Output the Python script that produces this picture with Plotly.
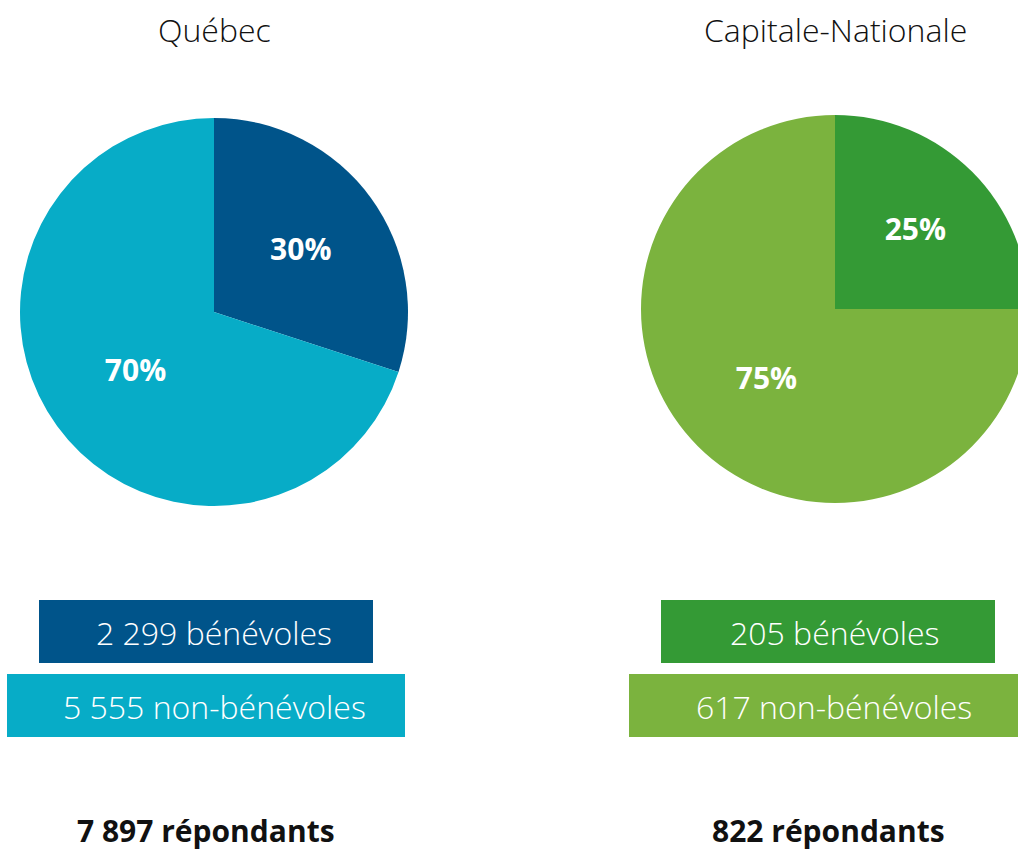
import plotly.graph_objects as go

W, H = 1040, 849

regions = ["Québec", "Capitale-Nationale"]
categories = ["bénévoles", "non-bénévoles"]
percent_quebec = [30, 70]
percent_capitale = [25, 75]
counts_quebec = ["2 299", "5 555"]
counts_capitale = ["205", "617"]
respondents = ["7 897", "822"]

colors_quebec = ["#00548A", "#07ACC7"]
colors_capitale = ["#349A35", "#7BB33E"]

FONT = "Open Sans"


def px_x(v):
    return v / W


def px_y(v):
    return 1 - v / H


fig = go.Figure()

pie_specs = [
    (percent_quebec, colors_quebec, [20, 408], [118, 506]),
    (percent_capitale, colors_capitale, [641, 1029], [115, 503]),
]
for vals, cols, dx, dy in pie_specs:
    fig.add_trace(go.Pie(
        labels=categories,
        values=vals,
        text=[f"{v}%" for v in vals],
        textinfo="text",
        textposition="inside",
        insidetextorientation="horizontal",
        insidetextfont=dict(family=FONT, size=30, color="white", weight="bold"),
        marker=dict(colors=cols, line=dict(width=0)),
        sort=False,
        direction="clockwise",
        rotation=0,
        showlegend=False,
        hoverinfo="label+percent",
        domain=dict(x=[px_x(dx[0]), px_x(dx[1])], y=[px_y(dy[1]), px_y(dy[0])]),
    ))

shapes = []
annotations = []

centers = [214, 834]
title_centers = [214, 835]
box_specs = [
    [(39, 373, 600, 663), (7, 405, 674, 737)],
    [(661, 995, 600, 663), (629, 1040, 674, 737)],
]
counts_all = [counts_quebec, counts_capitale]
colors_all = [colors_quebec, colors_capitale]

for i in range(2):
    annotations.append(dict(
        x=px_x(title_centers[i]), y=px_y(29), xref="paper", yref="paper",
        text=regions[i], showarrow=False, xanchor="center", yanchor="middle",
        font=dict(family=FONT, size=32, color="#111111", weight=300),
    ))
    for j in range(2):
        x0, x1, y0, y1 = box_specs[i][j]
        shapes.append(dict(
            type="rect", xref="paper", yref="paper",
            x0=px_x(x0), x1=px_x(x1), y0=px_y(y1), y1=px_y(y0),
            fillcolor=colors_all[i][j], line=dict(width=0), layer="below",
        ))
        annotations.append(dict(
            x=px_x(centers[i]), y=px_y((y0 + y1) / 2 + 1), xref="paper", yref="paper",
            text=f"{counts_all[i][j]} {categories[j]}", showarrow=False,
            xanchor="center", yanchor="middle",
            font=dict(family=FONT, size=32, color="white", weight=300),
        ))
    annotations.append(dict(
        x=px_x([206, 828][i]), y=px_y(830), xref="paper", yref="paper",
        text=f"{respondents[i]} répondants", showarrow=False,
        xanchor="center", yanchor="middle",
        font=dict(family=FONT, size=30, color="#111111", weight="bold"),
    ))

fig.update_layout(
    width=W, height=H,
    margin=dict(l=0, r=0, t=0, b=0),
    paper_bgcolor="white",
    plot_bgcolor="white",
    shapes=shapes,
    annotations=annotations,
)

fig.write_html(
    "out.html",
    config={"displayModeBar": False},
    post_script=(
        "document.body.style.margin='0';"
        "document.body.style.overflow='hidden';"
        "document.documentElement.style.overflow='hidden';"
    ),
)
